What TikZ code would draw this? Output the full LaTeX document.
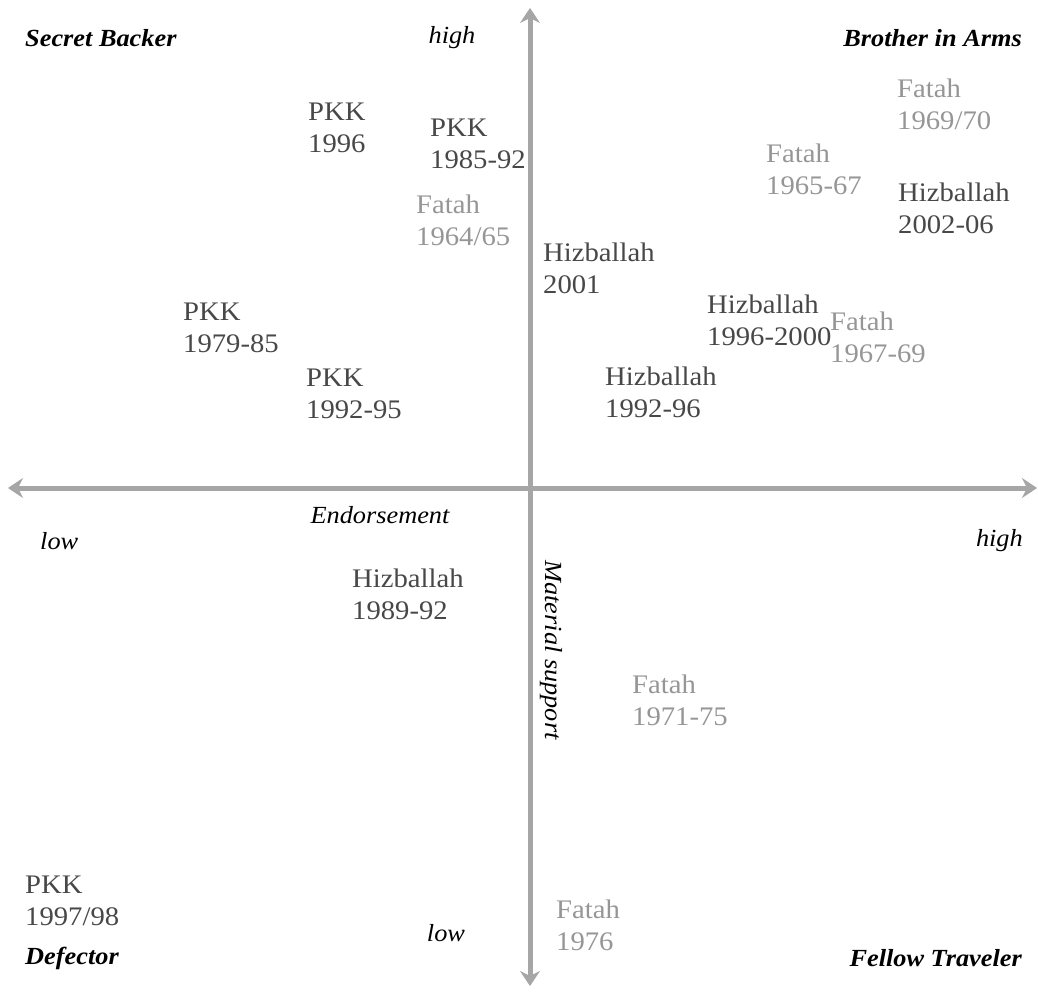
\documentclass[tikz,border=0pt]{standalone}
\usepackage{fontspec}
\setmainfont{Liberation Serif}[FakeStretch=1.07]
\usepackage{tikz}
\usepackage{xcolor}
\usetikzlibrary{arrows.meta,positioning}
\definecolor{axisGrey}{RGB}{166,166,166}
\definecolor{caseDark}{RGB}{72,72,72}
\definecolor{caseLight}{RGB}{150,150,150}

\begin{document}
\begin{tikzpicture}[x=1pt, y=-1pt,
    case/.style={anchor=west, align=left, inner sep=0pt, font=\fontsize{26.8}{32}\selectfont},
    dark/.style={case, text=caseDark},
    light/.style={case, text=caseLight},
    quadrant/.style={inner sep=0pt, font=\fontsize{24.6}{28}\selectfont\bfseries\itshape},
    axislabel/.style={inner sep=0pt, font=\fontsize{24.6}{28}\selectfont\itshape},
    axisline/.style={axisGrey, line width=5pt, -{Stealth[length=15pt, width=20pt, inset=5pt]}}]
                    \useasboundingbox (0,0) rectangle (1038,992);
                    % axes
                    \coordinate (origin) at (530,488);
                    \coordinate (top) at (530,8);
                    \coordinate (bottom) at (530,986);
                    \coordinate (left) at (8,488);
                    \coordinate (right) at (1037,488);
                    \draw[axisline] (origin) -- (top);
                    \draw[axisline] (origin) -- (bottom);
                    \draw[axisline] (origin) -- (left);
                    \draw[axisline] (origin) -- (right);

                    % quadrant names
                    \node[quadrant, anchor=west] (secret) at (25,38) {Secret Backer};
                    \node[quadrant, anchor=east] (brother) at (1022,38) {Brother in Arms};
                    \node[quadrant, anchor=west] (defector) at (25,958) {Defector};
                    \node[quadrant, anchor=east] (fellow) at (1022,958) {Fellow Traveler};

                    % axis labels
                    \node[axislabel] (hightop) at (452,38) {high};
                    \node[axislabel] (lowbottom) at (446,933) {low};
                    \node[axislabel, anchor=west] (lowleft) at (40,541) {low};
                    \node[axislabel, anchor=east] (highright) at (1023,541) {high};
                    \node[axislabel] (endorse) at (380,515) {Endorsement};
                    \node[axislabel, rotate=-90] (material) at (551,650) {Material support};

                    % PKK
                    \node[dark] (pkk96) at (308,128) {PKK\\1996};
                    \node[dark] (pkk8592) at (430,144) {PKK\\1985-92};
                    \node[dark] (pkk7985) at (183,328) {PKK\\1979-85};
                    \node[dark] (pkk9295) at (306,394) {PKK\\1992-95};
                    \node[dark] (pkk9798) at (25,901) {PKK\\1997/98};

                    % Hizballah
                    \node[dark] (hiz01) at (543,268) {Hizballah\\2001};
                    \node[dark] (hiz0206) at (898,208) {Hizballah\\2002-06};
                    \node[dark] (hiz9600) at (707,320) {Hizballah\\1996-2000};
                    \node[dark] (hiz9296) at (605,392) {Hizballah\\1992-96};
                    \node[dark] (hiz8992) at (352,594) {Hizballah\\1989-92};

                    % Fatah
                    \node[light] (fat6970) at (897,104) {Fatah\\1969/70};
                    \node[light] (fat6567) at (766,169) {Fatah\\1965-67};
                    \node[light] (fat6465) at (416,220) {Fatah\\1964/65};
                    \node[light] (fat6769) at (830,337) {Fatah\\1967-69};
                    \node[light] (fat7175) at (632,700) {Fatah\\1971-75};
                    \node[light] (fat76) at (556,925) {Fatah\\1976};
                \end{tikzpicture}
\end{document}
